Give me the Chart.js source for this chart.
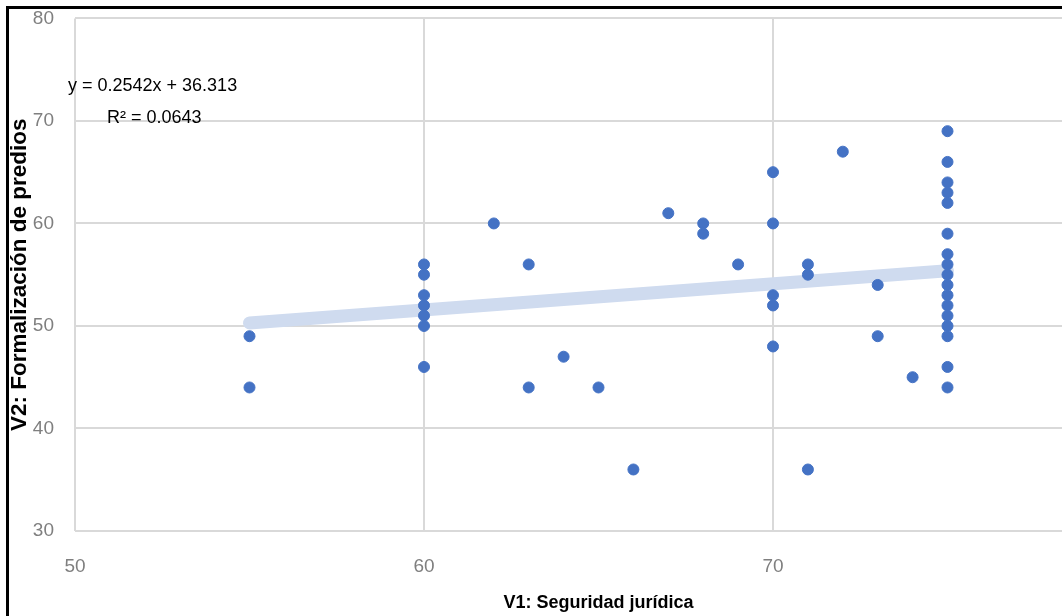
<!DOCTYPE html>
<html>
<head>
<meta charset="utf-8">
<script src="https://cdn.jsdelivr.net/npm/chart.js@4.4.1/dist/chart.umd.min.js"></script>
<style>
  html, body { margin: 0; padding: 0; background: #fff; overflow: hidden; }
  #wrap { position: relative; width: 1062px; height: 616px; overflow: hidden; }
  canvas { position: absolute; left: 0; top: -14px; }
  #frame { position: absolute; left: 6px; top: 6px; right: -10px; bottom: -10px;
           border-left: 3px solid #000; border-top: 3px solid #000; pointer-events: none; }
</style>
</head>
<body>
<div id="wrap">
  <canvas id="chart" width="1134" height="630"></canvas>
  <div id="frame"></div>
</div>
<script>
// V1: Seguridad jurídica (x) vs V2: Formalización de predios (y)
const seguridad = [
  55, 55,
  60, 60, 60, 60, 60, 60, 60,
  62, 63, 63, 64, 65, 66, 67, 68, 68, 69,
  70, 70, 70, 70, 70,
  71, 71, 71, 72, 73, 73, 74,
  75, 75, 75, 75, 75, 75, 75, 75, 75, 75, 75, 75, 75, 75, 75, 75, 75
];
const formalizacion = [
  49, 44,
  56, 55, 53, 52, 51, 50, 46,
  60, 56, 44, 47, 44, 36, 61, 60, 59, 56,
  65, 60, 53, 52, 48,
  56, 55, 36, 67, 54, 49, 45,
  69, 66, 64, 63, 62, 59, 57, 56, 55, 54, 53, 52, 51, 50, 49, 46, 44
];
const xTicks = [50, 60, 70];
const yTicks = [30, 40, 50, 60, 70, 80];

// linear trendline reported on the chart
const slope = 0.2542;
const intercept = 36.313;
const r2 = 0.0643;

const points = seguridad.map((x, i) => ({ x: x, y: formalizacion[i] }));
const xMin = Math.min(...seguridad);
const xMax = Math.max(...seguridad);
const trend = [
  { x: xMin, y: slope * xMin + intercept },
  { x: xMax, y: slope * xMax + intercept }
];

const FONT = '"Liberation Sans", Arial, sans-serif';
const gridColor = '#d9d9d9';

// trendline equation box, top-left of the plot area
const equationLabel = {
  id: 'equationLabel',
  afterDatasetsDraw(chart) {
    const { ctx, chartArea } = chart;
    ctx.save();
    ctx.fillStyle = '#000';
    ctx.font = '18px ' + FONT;
    ctx.textBaseline = 'middle';
    ctx.textAlign = 'left';
    ctx.fillText('y = ' + slope + 'x + ' + intercept, chartArea.left - 7, chartArea.top + 68);
    ctx.fillText('R\u00b2 = ' + r2, chartArea.left + 32, chartArea.top + 100);
    ctx.restore();
  }
};

new Chart(document.getElementById('chart'), {
  type: 'scatter',
  data: {
    datasets: [
      {
        label: 'V2',
        data: points,
        backgroundColor: '#4472c4',
        borderColor: '#4472c4',
        pointRadius: 5.5,
        pointHoverRadius: 5.5,
        order: 0
      },
      {
        type: 'line',
        label: 'Lineal',
        data: trend,
        borderColor: '#cfdbef',
        borderWidth: 13,
        borderCapStyle: 'round',
        pointRadius: 0,
        fill: false,
        order: 1
      }
    ]
  },
  options: {
    responsive: false,
    animation: false,
    devicePixelRatio: 1,
    layout: { padding: { top: 3, right: 12, left: 0, bottom: 0 } },
    plugins: {
      legend: { display: false },
      tooltip: { enabled: false }
    },
    scales: {
      x: {
        type: 'linear',
        min: 50,
        max: 80,
        afterBuildTicks: (s) => { s.ticks = xTicks.map(v => ({ value: v })); },
        afterFit: (s) => { s.height = 85; },
        grid: { color: gridColor, lineWidth: 2, drawTicks: false },
        border: { display: false },
        ticks: { color: '#7f7f7f', padding: 24, font: { family: FONT, size: 19 } },
        title: {
          display: true,
          text: 'V1: Seguridad jurídica',
          color: '#000',
          padding: { top: 0, bottom: 2 },
          font: { family: FONT, size: 18, weight: 'bold' }
        }
      },
      y: {
        min: 30,
        max: 80,
        afterBuildTicks: (s) => { s.ticks = yTicks.map(v => ({ value: v })); },
        afterFit: (s) => { s.width = 75; },
        grid: { color: gridColor, lineWidth: 2, drawTicks: false },
        border: { display: false },
        ticks: { color: '#7f7f7f', padding: 21, font: { family: FONT, size: 19 } },
        title: {
          display: true,
          text: 'V2: Formalización de predios',
          color: '#000',
          padding: { top: 6, bottom: 6 },
          font: { family: FONT, size: 22.5, weight: 'bold' }
        }
      }
    }
  },
  plugins: [equationLabel]
});
</script>
</body>
</html>
